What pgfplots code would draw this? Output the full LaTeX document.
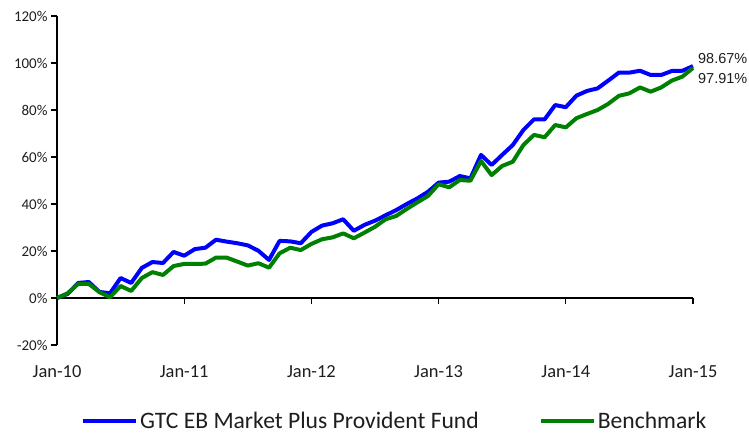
\documentclass[border=0pt]{standalone}
\usepackage{fontspec}
\setmainfont{Carlito}
\newfontfamily\arialf{Liberation Sans}
\usepackage{pgfplots}
\pgfplotsset{compat=1.18}
\usepackage{pgfplotstable}
\definecolor{fundblue}{RGB}{0,0,255}
\definecolor{benchgreen}{RGB}{0,128,0}
\definecolor{txt}{RGB}{30,30,30}
\pgfplotstableread{
m fund bench
0 0 0
1 1.7 2.0
2 6.4 6.0
3 6.8 6.0
4 2.6 2.5
5 2.0 0.3
6 8.5 5.1
7 6.4 3.0
8 12.8 8.5
9 15.3 11.0
10 14.9 9.8
11 19.6 13.6
12 18.0 14.5
13 20.8 14.5
14 21.4 14.6
15 24.8 17.2
16 24.0 17.2
17 23.3 15.5
18 22.4 13.8
19 20.1 14.8
20 16.2 12.9
21 24.3 19.0
22 24.1 21.4
23 23.3 20.4
24 28.1 23.0
25 30.8 25.0
26 31.8 25.8
27 33.5 27.5
28 28.6 25.4
29 31.1 27.8
30 32.9 30.3
31 35.2 33.5
32 37.4 34.9
33 40.0 37.9
34 42.4 40.7
35 45.2 43.4
36 49.1 48.4
37 49.5 47.1
38 51.9 50.2
39 50.9 49.9
40 60.9 58.3
41 56.6 52.3
42 60.9 56.2
43 65.1 58.0
44 71.5 65.1
45 76.0 69.4
46 76.0 68.4
47 82.1 73.6
48 81.2 72.6
49 86.1 76.5
50 88.1 78.3
51 89.2 80.0
52 92.5 82.6
53 95.9 86.0
54 95.9 87.1
55 96.7 89.6
56 94.9 87.8
57 94.9 89.6
58 96.6 92.5
59 96.7 94.2
60 98.67 97.91
}\datatable
\begin{document}
\begin{tikzpicture}
\path[use as bounding box] (0,0) rectangle (749bp,434bp);
\begin{axis}[
  at={(57bp,89bp)}, anchor=south west,
  scale only axis, width=636bp, height=329bp,
  xmin=0, xmax=60, ymin=-20, ymax=120,
  axis y line=left, axis x line=middle,
  axis line style={-, line width=1.6bp, black},
  tick style={line width=1.3bp, black},
  tick align=outside,
  major tick length=6bp,
  ytick={-20,0,20,40,60,80,100,120},
  yticklabel={\pgfmathprintnumber{\tick}\%},
  xtick={0,12,24,36,48,60},
  xticklabels={Jan-10,Jan-11,Jan-12,Jan-13,Jan-14,Jan-15},
  /pgf/number format/assume math mode=true,
  yticklabel style={font=\fontsize{15}{18}\selectfont, text=txt},
  xticklabel style={font=\fontsize{18.5}{22}\selectfont, text=txt, yshift=-58bp},
  hide obscured x ticks=false,
  clip=false,
  legend columns=2,
  legend style={at={(0.531,-0.232)}, anchor=center, draw=none, fill=none,
    inner sep=0pt, outer sep=0pt,
    font=\fontsize{23.7}{26}\selectfont, text=txt,
    /tikz/every even column/.append style={column sep=58bp}},
  legend image code/.code={\draw[#1, line width=4bp] (0bp,0bp) -- (53bp,0bp);},
]
\addplot[fundblue, line width=4bp, line join=round] table[x=m, y=fund] {\datatable};
\addlegendentry{GTC EB Market Plus Provident Fund}
\addplot[benchgreen, line width=4bp, line join=round] table[x=m, y=bench] {\datatable};
\addlegendentry{Benchmark}
\node[anchor=west, inner sep=0pt, xshift=5bp, font=\arialf\fontsize{14.5}{17}\selectfont, text=txt] at (axis cs:60,101.7) {98.67\%};
\node[anchor=west, inner sep=0pt, xshift=5bp, font=\arialf\fontsize{14.5}{17}\selectfont, text=txt] at (axis cs:60,93.6) {97.91\%};
\end{axis}
\end{tikzpicture}
\end{document}
